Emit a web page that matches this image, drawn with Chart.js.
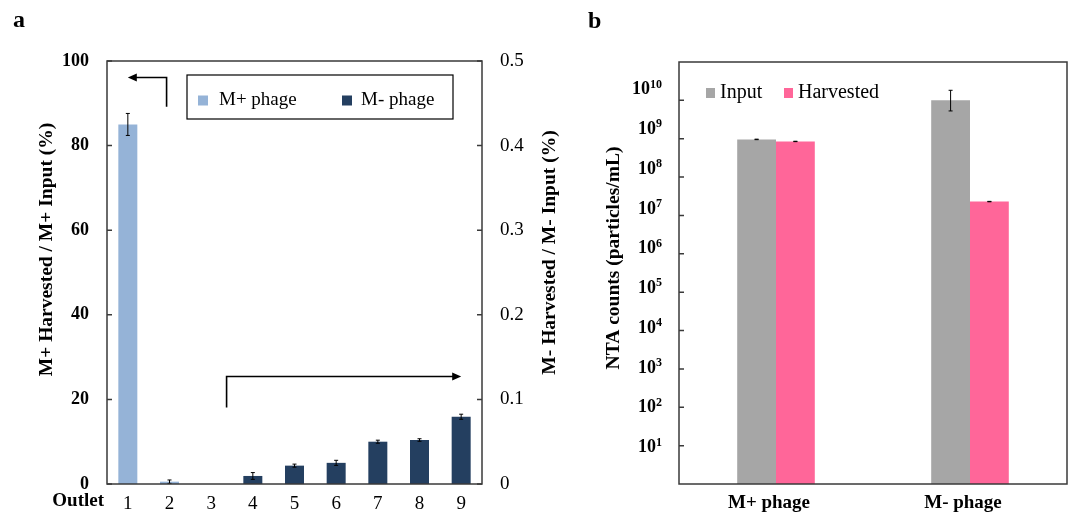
<!DOCTYPE html>
<html>
<head>
<meta charset="utf-8">
<script src="https://cdn.jsdelivr.net/npm/chart.js@4.4.1/dist/chart.umd.min.js"></script>
<style>
  body { margin: 0; background: #fff; width: 1072px; height: 515px; position: relative; overflow: hidden; }
  canvas { position: absolute; top: 0; }
  #chartA { left: 0; }
  #chartB { left: 570px; }
</style>
</head>
<body>
<canvas id="chartA" width="570" height="515"></canvas>
<canvas id="chartB" width="502" height="515"></canvas>
<script>
// ---- panel a data ----
const outlets = ['1', '2', '3', '4', '5', '6', '7', '8', '9']
const mPlusPct = [85, 0.55, 0, null, null, null, null, null, null]
const mPlusErr = [2.6, 0.4, 0, 0, 0, 0, 0, 0, 0]
const mMinusPct = [null, null, 0, 0.0095, 0.0217, 0.025, 0.05, 0.052, 0.0795]
const mMinusErr = [0, 0, 0, 0.004, 0.0018, 0.003, 0.0018, 0.0015, 0.003]
const leftTicks = [0, 20, 40, 60, 80, 100]
const rightTicks = [0, 0.1, 0.2, 0.3, 0.4, 0.5]

// ---- panel b data ----
const phageGroups = ['M+ phage', 'M- phage']
const inputCounts = [9.6e8, 1.0e10]
const inputErrLow = [1.5e7, 4.7e9]
const inputErrHigh = [1.5e7, 8.3e9]
const harvestedCounts = [8.5e8, 2.3e7]
const harvestedErrLow = [1e7, 3e5]
const harvestedErrHigh = [1e7, 3e5]
const logExponents = [1, 2, 3, 4, 5, 6, 7, 8, 9, 10]

const serif = "'Liberation Serif', 'Times New Roman', serif"
const frameColor = '#3a3a3a'
Chart.defaults.font.family = serif
Chart.defaults.color = '#000'

const lightBlue = '#95B3D7'
const navy = '#243F60'
const grey = '#A6A6A6'
const pink = '#FF6699'

const drawArrow = (ctx, pts) => {
  const n = pts.length
  const [x1, y1] = pts[n - 2]
  const [x2, y2] = pts[n - 1]
  const ang = Math.atan2(y2 - y1, x2 - x1)
  const head = 9
  ctx.save()
  ctx.strokeStyle = '#000'
  ctx.fillStyle = '#000'
  ctx.lineWidth = 1.6
  ctx.beginPath()
  ctx.moveTo(pts[0][0], pts[0][1])
  for (let i = 1; i < n - 1; i++) ctx.lineTo(pts[i][0], pts[i][1])
  ctx.lineTo(x2 - Math.cos(ang) * head * 0.8, y2 - Math.sin(ang) * head * 0.8)
  ctx.stroke()
  ctx.beginPath()
  ctx.moveTo(x2, y2)
  ctx.lineTo(x2 - Math.cos(ang) * head + Math.sin(ang) * 4, y2 - Math.sin(ang) * head - Math.cos(ang) * 4)
  ctx.lineTo(x2 - Math.cos(ang) * head - Math.sin(ang) * 4, y2 - Math.sin(ang) * head + Math.cos(ang) * 4)
  ctx.closePath()
  ctx.fill()
  ctx.restore()
}

const vTitle = (ctx, text, x, y) => {
  ctx.save()
  ctx.translate(x, y)
  ctx.rotate(-Math.PI / 2)
  ctx.font = `bold 19.5px ${serif}`
  ctx.fillStyle = '#000'
  ctx.textAlign = 'center'
  ctx.textBaseline = 'middle'
  ctx.fillText(text, 0, 0)
  ctx.restore()
}

const errLine = (ctx, x, yTop, yBot, cap) => {
  ctx.beginPath()
  ctx.moveTo(x, yTop)
  ctx.lineTo(x, yBot)
  ctx.moveTo(x - cap, yTop)
  ctx.lineTo(x + cap, yTop)
  ctx.moveTo(x - cap, yBot)
  ctx.lineTo(x + cap, yBot)
  ctx.stroke()
}

// ---------------- panel a ----------------
const panelA = {
  id: 'panelA',
  afterDatasetsDraw(chart) {
    const { ctx, chartArea: ca, scales } = chart
    const x = scales.x
    const yL = scales.yL
    const yR = scales.yR

    // error bars
    ctx.save()
    ctx.strokeStyle = '#000'
    ctx.lineWidth = 1
    const errs = [mPlusErr, mMinusErr]
    const axes = [yL, yR]
    chart.data.datasets.forEach((ds, di) => {
      const meta = chart.getDatasetMeta(di)
      meta.data.forEach((el, i) => {
        const v = ds.data[i]
        const e = errs[di][i]
        if (v == null || !e) return
        errLine(ctx, el.x, axes[di].getPixelForValue(v + e), axes[di].getPixelForValue(Math.max(v - e, 0)), 2)
      })
    })
    ctx.restore()

    // frame + inward ticks
    ctx.save()
    ctx.strokeStyle = frameColor
    ctx.lineWidth = 1.5
    ctx.strokeRect(ca.left, ca.top, ca.right - ca.left, ca.bottom - ca.top)
    ctx.beginPath()
    leftTicks.forEach((t) => {
      const py = yL.getPixelForValue(t)
      ctx.moveTo(ca.left, py)
      ctx.lineTo(ca.left + 5, py)
    })
    rightTicks.forEach((t) => {
      const py = yR.getPixelForValue(t)
      ctx.moveTo(ca.right - 5, py)
      ctx.lineTo(ca.right, py)
    })
    ctx.stroke()
    ctx.restore()

    // arrows pointing to each axis
    drawArrow(ctx, [
      [x.getPixelForValue(0.93), yL.getPixelForValue(89.2)],
      [x.getPixelForValue(0.93), yL.getPixelForValue(96.1)],
      [x.getPixelForValue(0), yL.getPixelForValue(96.1)],
    ])
    drawArrow(ctx, [
      [x.getPixelForValue(2.37), yL.getPixelForValue(18.1)],
      [x.getPixelForValue(2.37), yL.getPixelForValue(25.4)],
      [x.getPixelForValue(8), yL.getPixelForValue(25.4)],
    ])

    // legend box
    ctx.save()
    ctx.strokeStyle = '#000'
    ctx.lineWidth = 1.2
    ctx.strokeRect(187, 75, 266, 44)
    ctx.font = `19px ${serif}`
    ctx.textBaseline = 'middle'
    ctx.fillStyle = lightBlue
    ctx.fillRect(198, 95.5, 10, 10)
    ctx.fillStyle = navy
    ctx.fillRect(342, 95.5, 10, 10)
    ctx.fillStyle = '#000'
    ctx.fillText(chart.data.datasets[0].label, 219, 100)
    ctx.fillText(chart.data.datasets[1].label, 361, 100)
    ctx.restore()

    // texts
    vTitle(ctx, 'M+ Harvested / M+ Input (%)', 47, 249.5)
    vTitle(ctx, 'M- Harvested / M- Input (%)', 550, 252.5)
    ctx.save()
    ctx.fillStyle = '#000'
    ctx.font = `bold 19px ${serif}`
    ctx.textAlign = 'right'
    ctx.textBaseline = 'middle'
    ctx.fillText('Outlet', 104, 501)
    ctx.font = `bold 24px ${serif}`
    ctx.textAlign = 'left'
    ctx.textBaseline = 'alphabetic'
    ctx.fillText('a', 13, 27)
    ctx.restore()
  },
}

new Chart('chartA', {
  type: 'bar',
  data: {
    labels: outlets,
    datasets: [
      { label: 'M+ phage', data: mPlusPct, backgroundColor: lightBlue, yAxisID: 'yL', grouped: false },
      { label: 'M- phage', data: mMinusPct, backgroundColor: navy, yAxisID: 'yR', grouped: false },
    ],
  },
  options: {
    responsive: false,
    animation: false,
    layout: { padding: { top: 61, left: 0, right: 0, bottom: 0 } },
    datasets: { bar: { categoryPercentage: 1, barPercentage: 0.456 } },
    plugins: { legend: { display: false }, tooltip: { enabled: false } },
    scales: {
      x: {
        grid: { display: false, drawTicks: false },
        border: { display: false },
        ticks: { font: { size: 19 }, padding: 9 },
        afterFit: (s) => { s.height = 31 },
      },
      yL: {
        position: 'left',
        min: 0,
        max: 100,
        afterBuildTicks: (s) => { s.ticks = leftTicks.map((v) => ({ value: v })) },
        grid: { display: false, drawTicks: false },
        border: { display: false },
        ticks: { font: { size: 18, weight: 'bold' }, padding: 18 },
        afterFit: (s) => { s.width = 107 },
      },
      yR: {
        position: 'right',
        min: 0,
        max: 0.5,
        afterBuildTicks: (s) => { s.ticks = rightTicks.map((v) => ({ value: v })) },
        grid: { display: false, drawTicks: false },
        border: { display: false },
        ticks: { font: { size: 19 }, padding: 18, callback: (v) => (v === 0 ? '0' : v.toFixed(1)) },
        afterFit: (s) => { s.width = 88 },
      },
    },
  },
  plugins: [panelA],
})

// ---------------- panel b ----------------
const panelB = {
  id: 'panelB',
  afterDatasetsDraw(chart) {
    const { ctx, chartArea: ca, scales } = chart
    const y = scales.y

    // error bars
    ctx.save()
    ctx.strokeStyle = '#000'
    ctx.lineWidth = 1
    const lows = [inputErrLow, harvestedErrLow]
    const highs = [inputErrHigh, harvestedErrHigh]
    chart.data.datasets.forEach((ds, di) => {
      chart.getDatasetMeta(di).data.forEach((el, i) => {
        const v = ds.data[i]
        errLine(ctx, el.x, y.getPixelForValue(v + highs[di][i]), y.getPixelForValue(v - lows[di][i]), 2)
      })
    })
    ctx.restore()

    // frame + inward ticks
    ctx.save()
    ctx.strokeStyle = frameColor
    ctx.lineWidth = 1.5
    ctx.strokeRect(ca.left, ca.top, ca.right - ca.left, ca.bottom - ca.top)
    ctx.beginPath()
    logExponents.forEach((e) => {
      const py = y.getPixelForValue(Math.pow(10, e))
      ctx.moveTo(ca.left, py)
      ctx.lineTo(ca.left + 5, py)
    })
    ctx.stroke()
    ctx.restore()

    // power-of-ten tick labels
    ctx.save()
    ctx.fillStyle = '#000'
    ctx.textAlign = 'right'
    ctx.textBaseline = 'middle'
    const right = ca.left - 17
    logExponents.forEach((e) => {
      const py = y.getPixelForValue(Math.pow(10, e)) + 1.8 - (e - 1) * 1.4
      ctx.font = `bold 12px ${serif}`
      const ew = ctx.measureText(String(e)).width
      ctx.fillText(String(e), right, py - 5)
      ctx.font = `bold 18px ${serif}`
      ctx.fillText('10', right - ew, py)
    })
    ctx.restore()

    // legend
    ctx.save()
    ctx.font = `20px ${serif}`
    ctx.textBaseline = 'middle'
    ctx.fillStyle = grey
    ctx.fillRect(136, 88, 9, 10)
    ctx.fillStyle = pink
    ctx.fillRect(214, 88, 9, 10)
    ctx.fillStyle = '#000'
    ctx.fillText(chart.data.datasets[0].label, 150, 93)
    ctx.fillText(chart.data.datasets[1].label, 228, 93)
    ctx.restore()

    vTitle(ctx, 'NTA counts (particles/mL)', 43.5, 258)
    ctx.save()
    ctx.fillStyle = '#000'
    ctx.font = `bold 24px ${serif}`
    ctx.fillText('b', 18, 28)
    ctx.restore()
  },
}

new Chart('chartB', {
  type: 'bar',
  data: {
    labels: phageGroups,
    datasets: [
      { label: 'Input', data: inputCounts, backgroundColor: grey },
      { label: 'Harvested', data: harvestedCounts, backgroundColor: pink },
    ],
  },
  options: {
    responsive: false,
    animation: false,
    layout: { padding: { top: 62, left: 0, right: 5, bottom: 0 } },
    datasets: { bar: { categoryPercentage: 0.4, barPercentage: 1 } },
    plugins: { legend: { display: false }, tooltip: { enabled: false } },
    scales: {
      x: {
        grid: { display: false, drawTicks: false },
        border: { display: false },
        ticks: { font: { size: 19, weight: 'bold' }, padding: 8, labelOffset: -7 },
        afterFit: (s) => { s.height = 31 },
      },
      y: {
        type: 'logarithmic',
        min: 1,
        max: 1e11,
        grid: { display: false, drawTicks: false },
        border: { display: false },
        ticks: { display: false },
        afterFit: (s) => { s.width = 109 },
      },
    },
  },
  plugins: [panelB],
})
</script>
</body>
</html>
